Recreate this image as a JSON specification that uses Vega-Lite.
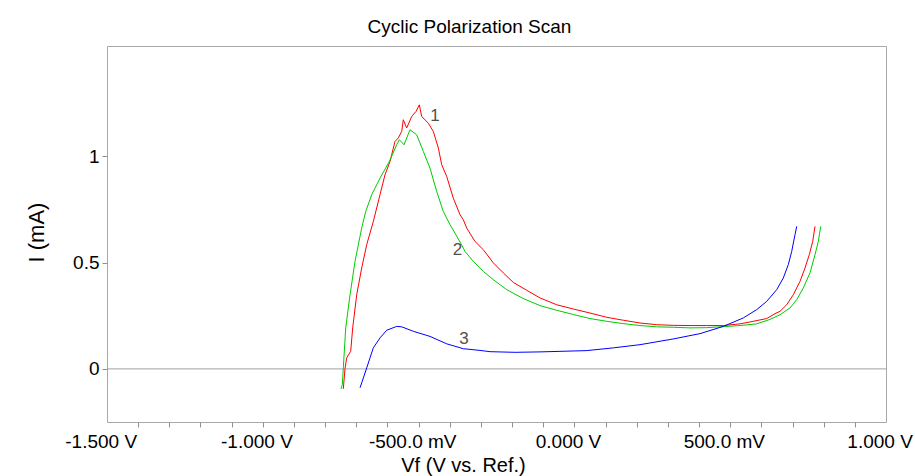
{
  "$schema": "https://vega.github.io/schema/vega-lite/v6.json",
  "autosize": "none",
  "width": 779,
  "height": 376,
  "padding": {"left": 107, "top": 46, "right": 29, "bottom": 54},
  "background": "white",
  "config": {
    "font": "Liberation Sans",
    "view": {"stroke": "#a8a8a8", "strokeWidth": 1}
  },
  "title": {
    "text": "Cyclic Polarization Scan",
    "font": "Liberation Sans",
    "fontSize": 19,
    "fontWeight": "normal",
    "color": "#000000",
    "anchor": "middle",
    "dx": -27,
    "offset": 9
  },
  "datasets": {
    "curves": [
      {"c": "1", "V": -0.7211, "I": -0.094}, {"c": "1", "V": -0.7157, "I": 0.001}, {"c": "1", "V": -0.7102, "I": 0.052}, {"c": "1", "V": -0.6974, "I": 0.083},
      {"c": "1", "V": -0.691, "I": 0.193}, {"c": "1", "V": -0.6781, "I": 0.349}, {"c": "1", "V": -0.6621, "I": 0.475}, {"c": "1", "V": -0.646, "I": 0.585},
      {"c": "1", "V": -0.6248, "I": 0.694}, {"c": "1", "V": -0.6033, "I": 0.82}, {"c": "1", "V": -0.5873, "I": 0.914}, {"c": "1", "V": -0.5712, "I": 0.976},
      {"c": "1", "V": -0.5552, "I": 1.071}, {"c": "1", "V": -0.5446, "I": 1.087}, {"c": "1", "V": -0.5337, "I": 1.118}, {"c": "1", "V": -0.5286, "I": 1.173},
      {"c": "1", "V": -0.5177, "I": 1.134}, {"c": "1", "V": -0.5016, "I": 1.188}, {"c": "1", "V": -0.4878, "I": 1.212}, {"c": "1", "V": -0.4772, "I": 1.243},
      {"c": "1", "V": -0.4695, "I": 1.188}, {"c": "1", "V": -0.4483, "I": 1.157}, {"c": "1", "V": -0.4323, "I": 1.118}, {"c": "1", "V": -0.4162, "I": 1.04},
      {"c": "1", "V": -0.4053, "I": 0.961}, {"c": "1", "V": -0.3893, "I": 0.906}, {"c": "1", "V": -0.3681, "I": 0.804}, {"c": "1", "V": -0.3466, "I": 0.726},
      {"c": "1", "V": -0.336, "I": 0.702}, {"c": "1", "V": -0.3251, "I": 0.663}, {"c": "1", "V": -0.2985, "I": 0.6}, {"c": "1", "V": -0.2718, "I": 0.561},
      {"c": "1", "V": -0.2397, "I": 0.499}, {"c": "1", "V": -0.2076, "I": 0.452}, {"c": "1", "V": -0.1755, "I": 0.407}, {"c": "1", "V": -0.1325, "I": 0.37},
      {"c": "1", "V": -0.0899, "I": 0.334}, {"c": "1", "V": -0.0363, "I": 0.302}, {"c": "1", "V": 0.017, "I": 0.282}, {"c": "1", "V": 0.0706, "I": 0.263},
      {"c": "1", "V": 0.1242, "I": 0.243}, {"c": "1", "V": 0.1775, "I": 0.229}, {"c": "1", "V": 0.2311, "I": 0.216}, {"c": "1", "V": 0.2847, "I": 0.208},
      {"c": "1", "V": 0.3379, "I": 0.205}, {"c": "1", "V": 0.3915, "I": 0.204}, {"c": "1", "V": 0.4451, "I": 0.204}, {"c": "1", "V": 0.4984, "I": 0.204},
      {"c": "1", "V": 0.552, "I": 0.212}, {"c": "1", "V": 0.5841, "I": 0.221}, {"c": "1", "V": 0.6377, "I": 0.237}, {"c": "1", "V": 0.6643, "I": 0.26},
      {"c": "1", "V": 0.6804, "I": 0.271}, {"c": "1", "V": 0.7019, "I": 0.302}, {"c": "1", "V": 0.723, "I": 0.349}, {"c": "1", "V": 0.7445, "I": 0.412},
      {"c": "1", "V": 0.7606, "I": 0.475}, {"c": "1", "V": 0.7744, "I": 0.538}, {"c": "1", "V": 0.7853, "I": 0.6}, {"c": "1", "V": 0.7927, "I": 0.671},

      {"c": "2", "V": -0.7285, "I": -0.094}, {"c": "2", "V": -0.7243, "I": -0.074}, {"c": "2", "V": -0.7211, "I": 0.005}, {"c": "2", "V": -0.7134, "I": 0.193},
      {"c": "2", "V": -0.6996, "I": 0.349}, {"c": "2", "V": -0.6836, "I": 0.506}, {"c": "2", "V": -0.6621, "I": 0.663}, {"c": "2", "V": -0.6492, "I": 0.741},
      {"c": "2", "V": -0.63, "I": 0.82}, {"c": "2", "V": -0.6033, "I": 0.898}, {"c": "2", "V": -0.5735, "I": 0.976}, {"c": "2", "V": -0.5498, "I": 1.055},
      {"c": "2", "V": -0.5414, "I": 1.079}, {"c": "2", "V": -0.5263, "I": 1.055}, {"c": "2", "V": -0.5071, "I": 1.126}, {"c": "2", "V": -0.4856, "I": 1.102},
      {"c": "2", "V": -0.4644, "I": 1.024}, {"c": "2", "V": -0.4429, "I": 0.945}, {"c": "2", "V": -0.4214, "I": 0.835}, {"c": "2", "V": -0.4002, "I": 0.741},
      {"c": "2", "V": -0.3787, "I": 0.679}, {"c": "2", "V": -0.3572, "I": 0.625}, {"c": "2", "V": -0.336, "I": 0.569}, {"c": "2", "V": -0.3306, "I": 0.553},
      {"c": "2", "V": -0.3039, "I": 0.506}, {"c": "2", "V": -0.2718, "I": 0.459}, {"c": "2", "V": -0.2397, "I": 0.42}, {"c": "2", "V": -0.1967, "I": 0.373},
      {"c": "2", "V": -0.1435, "I": 0.331}, {"c": "2", "V": -0.0899, "I": 0.298}, {"c": "2", "V": -0.0363, "I": 0.276}, {"c": "2", "V": 0.017, "I": 0.256},
      {"c": "2", "V": 0.0706, "I": 0.237}, {"c": "2", "V": 0.1242, "I": 0.224}, {"c": "2", "V": 0.1775, "I": 0.213}, {"c": "2", "V": 0.2311, "I": 0.204},
      {"c": "2", "V": 0.2847, "I": 0.198}, {"c": "2", "V": 0.3379, "I": 0.196}, {"c": "2", "V": 0.3915, "I": 0.193}, {"c": "2", "V": 0.4451, "I": 0.194},
      {"c": "2", "V": 0.4984, "I": 0.199}, {"c": "2", "V": 0.552, "I": 0.204}, {"c": "2", "V": 0.6056, "I": 0.212}, {"c": "2", "V": 0.6483, "I": 0.233},
      {"c": "2", "V": 0.6804, "I": 0.255}, {"c": "2", "V": 0.7125, "I": 0.287}, {"c": "2", "V": 0.734, "I": 0.326}, {"c": "2", "V": 0.7551, "I": 0.381},
      {"c": "2", "V": 0.7766, "I": 0.452}, {"c": "2", "V": 0.7927, "I": 0.538}, {"c": "2", "V": 0.8033, "I": 0.6}, {"c": "2", "V": 0.811, "I": 0.671},

      {"c": "3", "V": -0.6675, "I": -0.089}, {"c": "3", "V": -0.6621, "I": -0.066}, {"c": "3", "V": -0.646, "I": 0.005}, {"c": "3", "V": -0.6354, "I": 0.052},
      {"c": "3", "V": -0.6248, "I": 0.099}, {"c": "3", "V": -0.6033, "I": 0.146}, {"c": "3", "V": -0.5818, "I": 0.182}, {"c": "3", "V": -0.5498, "I": 0.2},
      {"c": "3", "V": -0.5337, "I": 0.198}, {"c": "3", "V": -0.4965, "I": 0.177}, {"c": "3", "V": -0.4429, "I": 0.153}, {"c": "3", "V": -0.3893, "I": 0.118},
      {"c": "3", "V": -0.336, "I": 0.095}, {"c": "3", "V": -0.2824, "I": 0.087}, {"c": "3", "V": -0.2503, "I": 0.081}, {"c": "3", "V": -0.17, "I": 0.078},
      {"c": "3", "V": -0.0899, "I": 0.08}, {"c": "3", "V": 0.06, "I": 0.086}, {"c": "3", "V": 0.1454, "I": 0.099}, {"c": "3", "V": 0.2311, "I": 0.114},
      {"c": "3", "V": 0.3379, "I": 0.141}, {"c": "3", "V": 0.4236, "I": 0.166}, {"c": "3", "V": 0.4984, "I": 0.2}, {"c": "3", "V": 0.5626, "I": 0.24},
      {"c": "3", "V": 0.6056, "I": 0.279}, {"c": "3", "V": 0.6377, "I": 0.318}, {"c": "3", "V": 0.6698, "I": 0.373}, {"c": "3", "V": 0.691, "I": 0.428},
      {"c": "3", "V": 0.707, "I": 0.491}, {"c": "3", "V": 0.7179, "I": 0.553}, {"c": "3", "V": 0.7285, "I": 0.632}, {"c": "3", "V": 0.734, "I": 0.671}
    ],
    "notes": [
      {"c": "1", "V": -0.4268, "I": 1.191},
      {"c": "2", "V": -0.3546, "I": 0.561},
      {"c": "3", "V": -0.3338, "I": 0.143}
    ]
  },
  "layer": [
    {
      "data": {"values": [{}]},
      "mark": {"type": "rule", "color": "#a0a0a0", "strokeWidth": 1},
      "encoding": {"y": {"datum": 0, "type": "quantitative"}}
    },
    {
      "data": {"name": "curves"},
      "mark": {"type": "line", "strokeWidth": 1, "clip": true},
      "encoding": {
        "x": {
          "field": "V",
          "type": "quantitative",
          "title": "Vf (V vs. Ref.)",
          "scale": {"domain": [-1.4795, 1.0205], "nice": false, "zero": false},
          "axis": {
            "values": [-1.4795, -1.3795, -1.2795, -1.1795, -1.0795, -1.0, -0.9795, -0.8795, -0.7795, -0.6795, -0.5795, -0.5, -0.4795, -0.3795, -0.2795, -0.1795, -0.0795, 0, 0.0205, 0.1205, 0.2205, 0.3205, 0.4205, 0.5, 0.5205, 0.6205, 0.7205, 0.8205, 0.9205, 1.0],
            "tickCount": 200,
            "domain": false,
            "grid": false,
            "tickSize": 5,
            "tickColor": "#909090",
            "tickOpacity": {"condition": {"test": "datum.value < -1.45 || abs(datum.value * 10 - round(datum.value * 10)) < 0.01", "value": 0}, "value": 1},
            "labelExpr": "datum.value < -1.45 ? '-1.500 V' : abs(datum.value + 1) < 0.001 ? '-1.000 V' : abs(datum.value + 0.5) < 0.001 ? '-500.0 mV' : abs(datum.value) < 0.001 ? '0.000 V' : abs(datum.value - 0.5) < 0.001 ? '500.0 mV' : abs(datum.value - 1) < 0.001 ? '1.000 V' : ''",
            "labelOffset": {"condition": {"test": "datum.value < -1.45", "value": -6.3}, "value": 0},
            "labelFlush": false,
            "labelOverlap": false,
            "labelBound": false,
            "labelFont": "Liberation Sans",
            "labelFontSize": 19,
            "labelColor": "#000000",
            "labelPadding": 5,
            "titleFont": "Liberation Sans",
            "titleFontSize": 20,
            "titleFontWeight": "normal",
            "titleColor": "#000000",
            "titleX": 356,
            "titleY": 49,
            "titleAlign": "center",
            "titleBaseline": "alphabetic"
          }
        },
        "y": {
          "field": "I",
          "type": "quantitative",
          "title": "I (mA)",
          "scale": {"domain": [-0.25, 1.52], "nice": false, "zero": false},
          "axis": {
            "values": [0, 0.5, 1],
            "format": ".1~f",
            "domain": false,
            "grid": false,
            "tickSize": 5,
            "tickColor": "#909090",
            "labelFont": "Liberation Sans",
            "labelFontSize": 19,
            "labelColor": "#000000",
            "labelPadding": 3,
            "titleFont": "Liberation Sans",
            "titleFontSize": 22,
            "titleFontWeight": "normal",
            "titleColor": "#000000",
            "titleAngle": -90,
            "titleX": -71,
            "titleY": 186,
            "titleAlign": "center",
            "titleBaseline": "middle"
          }
        },
        "color": {
          "field": "c",
          "type": "nominal",
          "scale": {"domain": ["1", "2", "3"], "range": ["#ff0000", "#00cc00", "#0000ff"]},
          "legend": null
        }
      }
    },
    {
      "data": {"name": "notes"},
      "mark": {"type": "text", "fontSize": 17, "color": "#505050", "font": "Liberation Sans"},
      "encoding": {
        "x": {"field": "V", "type": "quantitative", "title": "Vf (V vs. Ref.)"},
        "y": {"field": "I", "type": "quantitative", "title": "I (mA)"},
        "text": {"field": "c", "type": "nominal"}
      }
    }
  ]
}
